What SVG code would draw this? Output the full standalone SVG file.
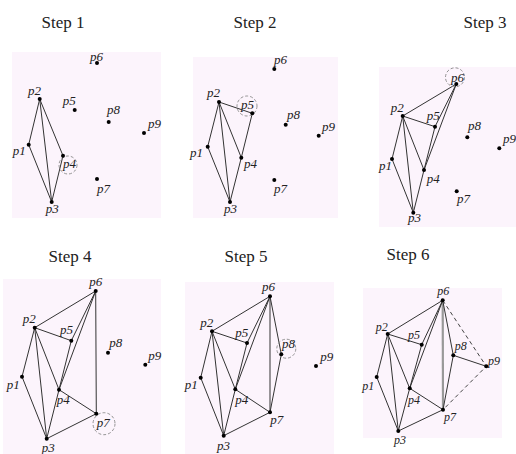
<svg xmlns="http://www.w3.org/2000/svg" width="516" height="454" viewBox="0 0 516 454">
<style>
.bg{fill:#fcf4fc;stroke:none}
.t{font-family:'Liberation Serif','DejaVu Serif','Times New Roman',serif;font-size:17px;fill:#222;text-anchor:middle}
.l{font-family:'Liberation Serif','DejaVu Serif','Times New Roman',serif;font-style:italic;font-size:13px;fill:#222}
.l6{font-family:'Liberation Serif','DejaVu Serif','Times New Roman',serif;font-style:italic;font-size:12px;fill:#222}
.e{stroke:#333;stroke-width:1;fill:none}
.d{stroke:#444;stroke-width:1;fill:none;stroke-dasharray:4 3}
.c{stroke:#888;stroke-width:0.9;fill:none;stroke-dasharray:3 2}
.g{stroke:#999;stroke-width:2.2;fill:none}
.p{fill:#000}
</style>
<rect width="516" height="454" fill="#fff"/>
<rect class="bg" x="12" y="52" width="149" height="166"/>
<rect class="bg" x="193" y="57" width="145" height="161"/>
<rect class="bg" x="379" y="67" width="137" height="160"/>
<rect class="bg" x="3" y="279" width="158" height="175"/>
<rect class="bg" x="185" y="282" width="149" height="172"/>
<rect class="bg" x="363" y="288" width="139" height="150"/>
<g id="titles">
<text class="t" x="63" y="28">Step 1</text>
<text class="t" x="255" y="28">Step 2</text>
<text class="t" x="485" y="28">Step 3</text>
<text class="t" x="70" y="262">Step 4</text>
<text class="t" x="246" y="262">Step 5</text>
<text class="t" x="408" y="260">Step 6</text>
</g>
<g id="connectors">
<g id="edges1">
<path class="e" d="M28.7 144.7L39.7 99L51.7 202ZM39.7 99L63 155.7L51.7 202"/>
<circle class="c" cx="68" cy="165" r="9"/>
</g>
<g id="edges2">
<path class="e" d="M207.7 146.7L219 102L230 202ZM219 102L241.3 157.7L230 202M219 102L252.3 113.3L241.3 157.7"/>
<circle class="c" cx="247" cy="106" r="10"/>
</g>
<g id="edges3">
<path class="e" d="M392 159L402.7 116L413.3 212.7ZM402.7 116L424 170L413.3 212.7M402.7 116L435 126.7L424 170M402.7 116L456.3 84L435 126.7M456.3 84L424 170"/>
<circle class="c" cx="455" cy="77.3" r="9.5"/>
</g>
<g id="edges4">
<path class="e" d="M22 376.7L34.7 327.7L46.7 438.7ZM34.7 327.7L59 389.7L46.7 438.7M34.7 327.7L71.3 340.7L59 389.7M34.7 327.7L95.7 291L71.3 340.7M95.7 291L59 389.7M95.7 291L96.3 413.7L59 389.7M46.7 438.7L96.3 413.7"/>
<circle class="c" cx="104" cy="423.7" r="11"/>
</g>
<g id="edges5">
<path class="e" d="M200.7 377.7L212 331.3L223.7 435.7ZM212 331.3L235.3 389.3L223.7 435.7M212 331.3L247 343L235.3 389.3M212 331.3L270 296.3L247 343M270 296.3L235.3 389.3M270 296.3L270 412.3L235.3 389.3M223.7 435.7L270 412.3M270 296.3L281.3 354.3L270 412.3"/>
<circle class="c" cx="286.3" cy="348.7" r="9.5"/>
</g>
<g id="edges6">
<path class="g" d="M442.7 300.3L443 409.7"/>
<path class="e" d="M376.7 377L387.7 334L398.3 431ZM387.7 334L409.7 388.3L398.3 431M387.7 334L421.7 344.7L409.7 388.3M387.7 334L442.7 300.3L421.7 344.7M442.7 300.3L409.7 388.3M443 409.7L409.7 388.3M398.3 431L443 409.7M442.7 300.3L453.3 355.3L443 409.7M453.3 355.3L486.3 366.3"/>
<path class="d" d="M442.7 300.3L486.3 366.3L443 409.7"/>
</g>
</g>
<g id="panel1">
<g id="s1-p1"><circle class="p" cx="28.7" cy="144.7" r="2"/><text class="l" x="12.7" y="155">p1</text></g>
<g id="s1-p2"><circle class="p" cx="39.7" cy="99" r="2"/><text class="l" x="28" y="95">p2</text></g>
<g id="s1-p3"><circle class="p" cx="51.7" cy="202" r="2"/><text class="l" x="45.7" y="213">p3</text></g>
<g id="s1-p4"><circle class="p" cx="63" cy="155.7" r="2"/><text class="l" x="63" y="168">p4</text></g>
<g id="s1-p5"><circle class="p" cx="74.7" cy="110" r="2"/><text class="l" x="62.7" y="105">p5</text></g>
<g id="s1-p6"><circle class="p" cx="97" cy="63" r="2"/><text class="l" x="90" y="61">p6</text></g>
<g id="s1-p7"><circle class="p" cx="97" cy="179" r="2"/><text class="l" x="97" y="193">p7</text></g>
<g id="s1-p8"><circle class="p" cx="108.7" cy="122" r="2"/><text class="l" x="107" y="114">p8</text></g>
<g id="s1-p9"><circle class="p" cx="144" cy="133" r="2"/><text class="l" x="148" y="128">p9</text></g>
</g>
<g id="panel2">
<g id="s2-p1"><circle class="p" cx="207.7" cy="146.7" r="2"/><text class="l" x="190" y="157">p1</text></g>
<g id="s2-p2"><circle class="p" cx="219" cy="102" r="2"/><text class="l" x="207" y="97">p2</text></g>
<g id="s2-p3"><circle class="p" cx="230" cy="202" r="2"/><text class="l" x="224" y="213">p3</text></g>
<g id="s2-p4"><circle class="p" cx="241.3" cy="157.7" r="2"/><text class="l" x="244" y="168">p4</text></g>
<g id="s2-p5"><circle class="p" cx="252.3" cy="113.3" r="2"/><text class="l" x="241" y="109">p5</text></g>
<g id="s2-p6"><circle class="p" cx="274.3" cy="69" r="2"/><text class="l" x="274" y="64">p6</text></g>
<g id="s2-p7"><circle class="p" cx="274.3" cy="180" r="2"/><text class="l" x="274" y="193">p7</text></g>
<g id="s2-p8"><circle class="p" cx="285.7" cy="124.7" r="2"/><text class="l" x="287" y="119">p8</text></g>
<g id="s2-p9"><circle class="p" cx="318.7" cy="135.7" r="2"/><text class="l" x="322" y="131">p9</text></g>
</g>
<g id="panel3">
<g id="s3-p1"><circle class="p" cx="392" cy="159" r="2"/><text class="l" x="379" y="170">p1</text></g>
<g id="s3-p2"><circle class="p" cx="402.7" cy="116" r="2"/><text class="l" x="390.7" y="111.7">p2</text></g>
<g id="s3-p3"><circle class="p" cx="413.3" cy="212.7" r="2"/><text class="l" x="408" y="221.7">p3</text></g>
<g id="s3-p4"><circle class="p" cx="424" cy="170" r="2"/><text class="l" x="426.7" y="183.3">p4</text></g>
<g id="s3-p5"><circle class="p" cx="435" cy="126.7" r="2"/><text class="l" x="426.7" y="120">p5</text></g>
<g id="s3-p6"><circle class="p" cx="456.3" cy="84" r="2"/><text class="l" x="451" y="82">p6</text></g>
<g id="s3-p7"><circle class="p" cx="456.7" cy="191.3" r="2"/><text class="l" x="457" y="203.3">p7</text></g>
<g id="s3-p8"><circle class="p" cx="467.3" cy="137.3" r="2"/><text class="l" x="468" y="130">p8</text></g>
<g id="s3-p9"><circle class="p" cx="499.3" cy="148.3" r="2"/><text class="l" x="503" y="142.7">p9</text></g>
</g>
<g id="panel4">
<g id="s4-p1"><circle class="p" cx="22" cy="376.7" r="2"/><text class="l" x="6.7" y="388.7">p1</text></g>
<g id="s4-p2"><circle class="p" cx="34.7" cy="327.7" r="2"/><text class="l" x="22.7" y="323">p2</text></g>
<g id="s4-p3"><circle class="p" cx="46.7" cy="438.7" r="2"/><text class="l" x="41.7" y="451.5">p3</text></g>
<g id="s4-p4"><circle class="p" cx="59" cy="389.7" r="2"/><text class="l" x="56.7" y="403.7">p4</text></g>
<g id="s4-p5"><circle class="p" cx="71.3" cy="340.7" r="2"/><text class="l" x="60" y="333.7">p5</text></g>
<g id="s4-p6"><circle class="p" cx="95.7" cy="291" r="2"/><text class="l" x="89.3" y="286">p6</text></g>
<g id="s4-p7"><circle class="p" cx="96.3" cy="413.7" r="2"/><text class="l" x="96.7" y="427">p7</text></g>
<g id="s4-p8"><circle class="p" cx="108" cy="352.7" r="2"/><text class="l" x="109.3" y="347">p8</text></g>
<g id="s4-p9"><circle class="p" cx="145.3" cy="364.7" r="2"/><text class="l" x="148.3" y="360.3">p9</text></g>
</g>
<g id="panel5">
<g id="s5-p1"><circle class="p" cx="200.7" cy="377.7" r="2"/><text class="l" x="184.7" y="388.7">p1</text></g>
<g id="s5-p2"><circle class="p" cx="212" cy="331.3" r="2"/><text class="l" x="200.3" y="327">p2</text></g>
<g id="s5-p3"><circle class="p" cx="223.7" cy="435.7" r="2"/><text class="l" x="217" y="450">p3</text></g>
<g id="s5-p4"><circle class="p" cx="235.3" cy="389.3" r="2"/><text class="l" x="235.3" y="403.7">p4</text></g>
<g id="s5-p5"><circle class="p" cx="247" cy="343" r="2"/><text class="l" x="235.3" y="337">p5</text></g>
<g id="s5-p6"><circle class="p" cx="270" cy="296.3" r="2"/><text class="l" x="262" y="291">p6</text></g>
<g id="s5-p7"><circle class="p" cx="270" cy="412.3" r="2"/><text class="l" x="270.3" y="424.3">p7</text></g>
<g id="s5-p8"><circle class="p" cx="281.3" cy="354.3" r="2"/><text class="l" x="282" y="347.7">p8</text></g>
<g id="s5-p9"><circle class="p" cx="316" cy="366" r="2"/><text class="l" x="320.3" y="361">p9</text></g>
</g>
<g id="panel6">
<g id="s6-p1"><circle class="p" cx="376.7" cy="377" r="2"/><text class="l6" x="362.3" y="389.7">p1</text></g>
<g id="s6-p2"><circle class="p" cx="387.7" cy="334" r="2"/><text class="l6" x="375.7" y="331">p2</text></g>
<g id="s6-p3"><circle class="p" cx="398.3" cy="431" r="2"/><text class="l6" x="394" y="443.7">p3</text></g>
<g id="s6-p4"><circle class="p" cx="409.7" cy="388.3" r="2"/><text class="l6" x="408" y="403.7">p4</text></g>
<g id="s6-p5"><circle class="p" cx="421.7" cy="344.7" r="2"/><text class="l6" x="408" y="338.7">p5</text></g>
<g id="s6-p6"><circle class="p" cx="442.7" cy="300.3" r="2"/><text class="l6" x="437.3" y="295.3">p6</text></g>
<g id="s6-p7"><circle class="p" cx="443" cy="409.7" r="2"/><text class="l6" x="444" y="421">p7</text></g>
<g id="s6-p8"><circle class="p" cx="453.3" cy="355.3" r="2"/><text class="l6" x="454.7" y="349.7">p8</text></g>
<g id="s6-p9"><circle class="p" cx="486.3" cy="366.3" r="2"/><text class="l6" x="488" y="364.7">p9</text></g>
</g>
</svg>
